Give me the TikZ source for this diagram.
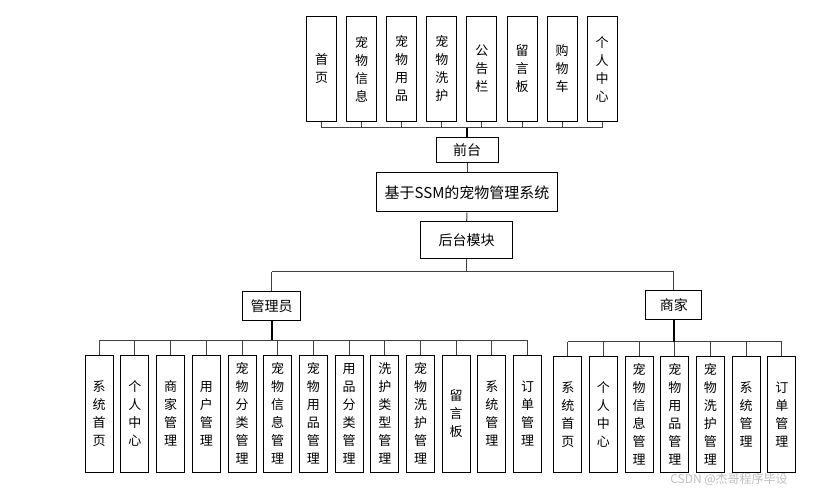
\documentclass[tikz,border=0pt]{standalone}
\usepackage{fontspec}
\setmainfont{Noto Sans CJK SC}
\usetikzlibrary{positioning}
\tikzset{
  vbox/.style={draw,line width=1pt,minimum width=28pt,inner sep=0pt,align=center,font=\fontsize{13}{18}\selectfont},
  hbox/.style={draw,line width=1pt,inner sep=0pt,align=center,font=\fontsize{14}{16}\selectfont},
  link/.style={line width=1pt,black!75},
  stem/.style={line width=1.8pt,black}
}
\begin{document}
\begin{tikzpicture}[x=1pt,y=-1pt]
\useasboundingbox[fill=white] (0,0) rectangle (815,489);
% front end
\foreach \t [count=\i from 0] in {{首\\页},{宠\\物\\信\\息},{宠\\物\\用\\品},{宠\\物\\洗\\护},{公\\告\\栏},{留\\言\\板},{购\\物\\车},{个\\人\\中\\心}}
  \node[vbox,minimum width=30pt,minimum height=105pt] (f\i) at (321.5+40.1*\i,69) {\t};
\node[hbox,minimum width=62pt,minimum height=25pt] (qt) at (467,150.5) {前台};
\node[hbox,minimum width=181pt,minimum height=39pt,font=\fontsize{15}{16}\selectfont] (sys) at (467,192.5) {基于SSM的宠物管理系统};
\node[hbox,minimum width=92pt,minimum height=37pt] (ht) at (466.7,240) {后台模块};
\coordinate (fbus) at (467,128);
\foreach \i in {0,...,7} \draw[link] (f\i.south) -- (f\i.south |- fbus);
\draw[link] (f0.south |- fbus) -- (f7.south |- fbus);
\draw[stem] (qt.north) -- (qt.north |- fbus);
\draw[link] (qt.south) -- (sys.north);
\draw[link] (sys.south) -- (ht.north);
% back end
\node[hbox,minimum width=58pt,minimum height=29pt] (admin) at (271.7,305.7) {管理员};
\node[hbox,minimum width=56pt,minimum height=29pt] (shop) at (673.8,305.5) {商家};
\coordinate (hbus) at (467,272);
\draw[link] (ht.south) -- (ht.south |- hbus);
\draw[link] (admin.north |- hbus) -- (shop.north |- hbus);
\draw[link] (admin.north) -- (admin.north |- hbus);
\draw[link] (shop.north) -- (shop.north |- hbus);
% admin modules
\coordinate (abus) at (271.7,340.3);
\foreach \t [count=\i from 0] in {{系\\统\\首\\页},{个\\人\\中\\心},{商\\家\\管\\理},{用\\户\\管\\理},{宠\\物\\分\\类\\管\\理},{宠\\物\\信\\息\\管\\理},{宠\\物\\用\\品\\管\\理},{用\\品\\分\\类\\管\\理},{洗\\护\\类\\型\\管\\理},{宠\\物\\洗\\护\\管\\理},{留\\言\\板},{系\\统\\管\\理},{订\\单\\管\\理}}
{
  \node[vbox,minimum height=117pt] (a\i) at (99.2+35.7*\i,413.7) {\t};
  \draw[link] (a\i.north) -- (a\i.north |- abus);
}
\draw[link] (a0.north |- abus) -- (a12.north |- abus);
\draw[stem] (admin.south) -- (admin.south |- abus);
% shop modules
\coordinate (sbus) at (673.8,341.7);
\foreach \t [count=\i from 0] in {{系\\统\\首\\页},{个\\人\\中\\心},{宠\\物\\信\\息\\管\\理},{宠\\物\\用\\品\\管\\理},{宠\\物\\洗\\护\\管\\理},{系\\统\\管\\理},{订\\单\\管\\理}}
{
  \node[vbox,minimum height=116pt] (s\i) at (567.8+35.67*\i,414.7) {\t};
  \draw[link] (s\i.north) -- (s\i.north |- sbus);
}
\draw[link] (s0.north |- sbus) -- (s6.north |- sbus);
\draw[stem] (shop.south) -- (shop.south |- sbus);
\node[text=black!25,font=\fontsize{12}{14}\selectfont,inner sep=0pt] (wm) at (729,479) {CSDN @杰哥程序毕设};
\end{tikzpicture}
\end{document}
